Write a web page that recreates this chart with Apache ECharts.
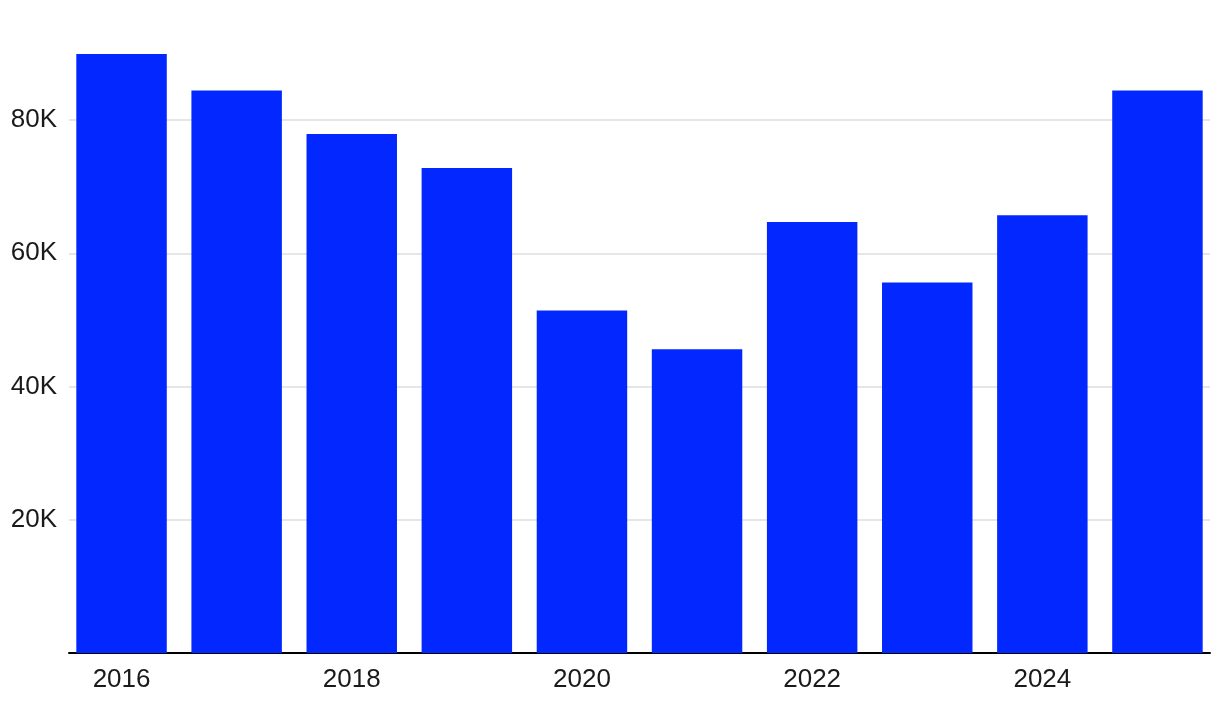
<!DOCTYPE html>
<html>
<head>
<meta charset="utf-8">
<script src="https://cdn.jsdelivr.net/npm/echarts@6/dist/echarts.min.js"></script>
<style>
html,body{margin:0;padding:0;background:#fff;}
#chart{width:1220px;height:714px;}
</style>
</head>
<body>
<div id="chart"></div>
<script>
const years = ['2016','2017','2018','2019','2020','2021','2022','2023','2024','2025'];
const values = [89900, 84400, 77900, 72800, 51400, 45600, 64700, 55600, 65700, 84400];
const yTickFormat = v => (v === 0 ? '' : (v / 1000) + 'K');

const chart = echarts.init(document.getElementById('chart'), null, {renderer: 'canvas'});
const font = '"Liberation Sans", Arial, sans-serif';
chart.setOption({
  animation: false,
  backgroundColor: '#ffffff',
  grid: [
    {left: 64, right: 5, top: 0, bottom: 61},
    {left: 69, right: 10, top: 120, bottom: 61}
  ],
  xAxis: [
    {
      type: 'category', gridIndex: 0, data: years,
      axisLine: {show: false}, axisTick: {show: false},
      axisLabel: {
        interval: 1, color: '#1a1a1a', fontSize: 26, fontFamily: font, margin: 14
      }
    },
    {
      type: 'category', gridIndex: 1, data: years, offset: 1,
      axisLine: {show: true, lineStyle: {color: '#000', width: 2}},
      axisTick: {show: false}, axisLabel: {show: false}
    }
  ],
  yAxis: [
    {
      type: 'value', gridIndex: 0, min: 0, max: 98000,
      show: false, splitLine: {show: false}
    },
    {
      type: 'value', gridIndex: 1, min: 0, max: 80000, interval: 20000,
      axisLine: {show: false}, axisTick: {show: false},
      axisLabel: {formatter: yTickFormat, color: '#1a1a1a', fontSize: 26, fontFamily: font, margin: 12},
      splitLine: {show: true, lineStyle: {color: '#e6e6e6', width: 2}}
    }
  ],
  series: [{
    type: 'bar', xAxisIndex: 0, yAxisIndex: 0, data: values,
    barWidth: '78.6%', itemStyle: {color: '#0328ff'}, z: 3
  }]
});
</script>
</body>
</html>
